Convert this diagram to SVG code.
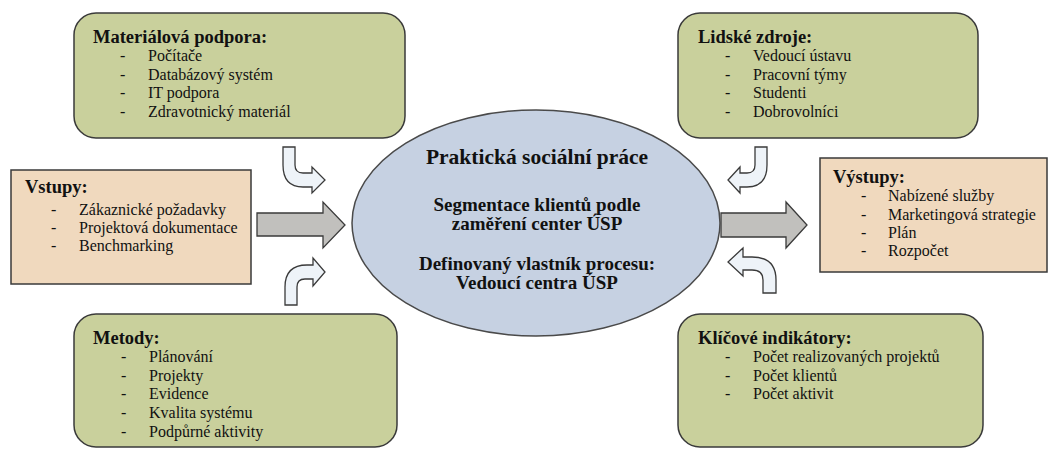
<svg xmlns="http://www.w3.org/2000/svg" width="1049" height="450" viewBox="0 0 1049 450">
<style>
.green{fill:#c9d09c;stroke:#3a3a3a;stroke-width:1.5}
.beige{fill:#f0d9be;stroke:#3a3a3a;stroke-width:1.5}
.ell{fill:#c6d1e2;stroke:#4a4a4a;stroke-width:1.5}
.big{fill:#c1c0bd;stroke:#3a3a3a;stroke-width:1.3}
.bent{fill:#eef3f8;stroke:#3a3a3a;stroke-width:1.3}
text{font-family:"Liberation Serif","Times New Roman",serif;fill:#111}
.h{font-size:18.5px;font-weight:bold}
.i{font-size:16px}
.c{font-size:19px;font-weight:bold;text-anchor:middle}
.ct{font-size:21.5px;font-weight:bold;text-anchor:middle}
</style>
<rect width="1049" height="450" fill="#fff"/>

<g id="connectors">
<path class="big" d="M257,213 L323,213 L323,202 L345,225 L323,248 L323,236 L257,236 Z"/>
<path class="big" d="M721,213 L786,213 L786,202 L807,225 L786,248 L786,237 L721,237 Z"/>
<path class="bent" d="M283,147 L295,147 L295,165 Q295,173 303,173 L312,173 L312,167 L325,180 L312,193 L312,187 L303,187 Q283,187 283,165 Z"/>
<path class="bent" d="M285,305 L285,287 Q285,265 307,265 L313,265 L313,258 L325,272 L313,286 L313,279 L305,279 Q297,279 297,287 L297,305 Z"/>
<path class="bent" d="M767,147 L755,147 L755,165 Q755,173 747,173 L740,173 L740,167 L728,180 L740,193 L740,187 L747,187 Q767,187 767,165 Z"/>
<path class="bent" d="M776,293 L776,280 Q776,257 752,257 L743,257 L743,248 L728,262 L743,276 L743,270 L752,270 Q763,270 763,280 L763,293 Z"/>
</g>

<g id="material">
<rect class="green" x="74" y="13" width="331" height="125" rx="22" ry="22"/>
<text class="h" x="93" y="43">Materiálová podpora:</text>
<g class="i">
<text x="120" y="61">-</text><text x="148" y="61">Počítače</text>
<text x="120" y="80">-</text><text x="148" y="80">Databázový systém</text>
<text x="120" y="98">-</text><text x="148" y="98">IT podpora</text>
<text x="120" y="117">-</text><text x="148" y="117">Zdravotnický materiál</text>
</g>
</g>

<g id="lidske">
<rect class="green" x="678" y="13" width="300" height="125" rx="22" ry="22"/>
<text class="h" x="698" y="43">Lidské zdroje:</text>
<g class="i">
<text x="725" y="61">-</text><text x="753" y="61">Vedoucí ústavu</text>
<text x="725" y="80">-</text><text x="753" y="80">Pracovní týmy</text>
<text x="725" y="98">-</text><text x="753" y="98">Studenti</text>
<text x="725" y="117">-</text><text x="753" y="117">Dobrovolníci</text>
</g>
</g>

<g id="vstupy">
<rect class="beige" x="11" y="170" width="240" height="114"/>
<text class="h" x="25" y="193">Vstupy:</text>
<g class="i">
<text x="51" y="215">-</text><text x="79" y="215">Zákaznické požadavky</text>
<text x="51" y="233">-</text><text x="79" y="233">Projektová dokumentace</text>
<text x="51" y="251">-</text><text x="79" y="251">Benchmarking</text>
</g>
</g>

<g id="vystupy">
<rect class="beige" x="820" y="158" width="227" height="114"/>
<text class="h" x="833" y="183">Výstupy:</text>
<g class="i">
<text x="861" y="201">-</text><text x="888" y="201">Nabízené služby</text>
<text x="861" y="220">-</text><text x="888" y="220">Marketingová strategie</text>
<text x="861" y="238">-</text><text x="888" y="238">Plán</text>
<text x="861" y="256">-</text><text x="888" y="256">Rozpočet</text>
</g>
</g>

<g id="center">
<ellipse class="ell" cx="536" cy="223" rx="184" ry="113"/>
<text class="ct" x="537" y="164">Praktická sociální práce</text>
<text class="c" x="537" y="211">Segmentace klientů podle</text>
<text class="c" x="537" y="230">zaměření center ÚSP</text>
<text class="c" x="537" y="270">Definovaný vlastník procesu:</text>
<text class="c" x="537" y="289">Vedoucí centra ÚSP</text>
</g>

<g id="metody">
<rect class="green" x="74" y="314" width="323" height="133" rx="22" ry="22"/>
<text class="h" x="93" y="344">Metody:</text>
<g class="i">
<text x="121" y="362">-</text><text x="149" y="362">Plánování</text>
<text x="121" y="381">-</text><text x="149" y="381">Projekty</text>
<text x="121" y="399">-</text><text x="149" y="399">Evidence</text>
<text x="121" y="418">-</text><text x="149" y="418">Kvalita systému</text>
<text x="121" y="437">-</text><text x="149" y="437">Podpůrné aktivity</text>
</g>
</g>

<g id="indikatory">
<rect class="green" x="678" y="314" width="305" height="133" rx="22" ry="22"/>
<text class="h" x="698" y="344">Klíčové indikátory:</text>
<g class="i">
<text x="725" y="362">-</text><text x="753" y="362">Počet realizovaných projektů</text>
<text x="725" y="381">-</text><text x="753" y="381">Počet klientů</text>
<text x="725" y="399">-</text><text x="753" y="399">Počet aktivit</text>
</g>
</g>
</svg>
